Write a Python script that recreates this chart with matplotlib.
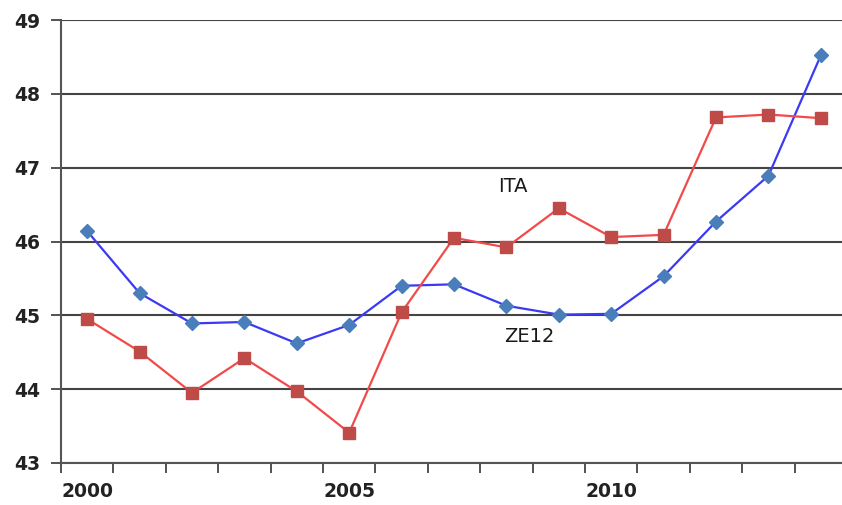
import matplotlib
matplotlib.use("Agg")
import matplotlib.pyplot as plt
import numpy as np

years = list(range(2000, 2015))
ze12 = [46.14, 45.30, 44.89, 44.91, 44.62, 44.87, 45.40, 45.42, 45.13, 45.01,
        45.02, 45.53, 46.27, 46.89, 48.52]
ita = [44.95, 44.51, 43.95, 44.42, 43.97, 43.41, 45.04, 46.05, 45.92, 46.45,
       46.06, 46.09, 47.68, 47.72, 47.67]
year_labels = ['2000', '2005', '2010']
y_ticks = [43, 44, 45, 46, 47, 48, 49]


def main():
    fig = plt.figure(figsize=(8.42, 5.05), dpi=100)
    # right edge runs just past the canvas, like the source image
    ax = fig.add_axes([61 / 842, 42 / 505, 786 / 842, 443 / 505])

    x = np.arange(len(years))
    ax.plot(x, ze12, color='#3a3af5', lw=1.6, marker='D', markersize=7.5,
            markerfacecolor='#4a7ebb', markeredgecolor='#4a7ebb', zorder=3)
    ax.plot(x, ita, color='#f24a4a', lw=1.6, marker='s', markersize=8,
            markerfacecolor='#be4b48', markeredgecolor='#be4b48', zorder=3)

    ax.set_xlim(-0.5, len(years) - 0.5)
    ax.set_ylim(43, 49)
    ax.set_yticks(y_ticks)
    ax.set_yticklabels([str(v) for v in y_ticks])

    # category axis: ticks between the bands, labels every 5 years
    ax.set_xticks(np.arange(len(years) + 1) - 0.5, minor=True)
    ax.set_xticks([years.index(int(s)) for s in year_labels])
    ax.set_xticklabels(year_labels)
    ax.tick_params(axis='x', which='major', length=0, pad=14)
    ax.tick_params(axis='x', which='minor', length=7, width=1.3, color='#444444')
    ax.tick_params(axis='y', length=7, width=1.3, color='#444444', pad=8)
    ax.tick_params(labelsize=13.5, labelcolor='#222222')
    for lab in ax.get_xticklabels() + ax.get_yticklabels():
        lab.set_fontweight('semibold')

    ax.grid(axis='y', color='#444444', lw=1.5)
    ax.set_axisbelow(True)
    for side in ['top', 'right']:
        ax.spines[side].set_visible(False)
    for side in ['left', 'bottom']:
        ax.spines[side].set_color('#555555')
        ax.spines[side].set_linewidth(1.5)

    ax.text(8.13, 46.74, 'ITA', fontsize=14, color='#1a1a1a', ha='center', va='center')
    ax.text(8.43, 44.72, 'ZE12', fontsize=14, color='#1a1a1a', ha='center', va='center')

    fig.savefig('out.png', dpi=100)


if __name__ == "__main__": main()
